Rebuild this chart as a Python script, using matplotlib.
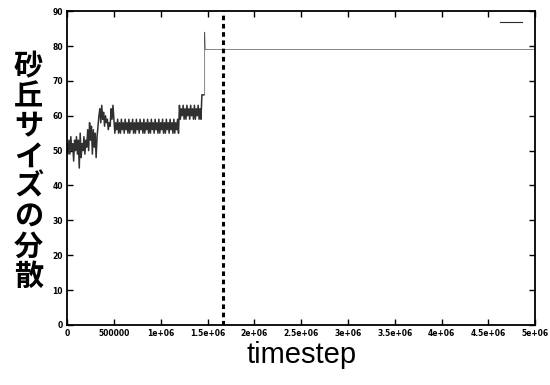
import numpy as np
import matplotlib
matplotlib.use("Agg")
import matplotlib.pyplot as plt
from matplotlib.lines import Line2D

# 砂丘サイズの分散 (sampled every 10000 steps up to the jump)
var_early = [52, 49, 53, 49, 54, 50, 52, 47, 53, 50,
             54, 49, 53, 45, 55, 48, 52, 50, 54, 49,
             53, 51, 56, 50, 58, 53, 57, 49, 56, 51,
             55, 48, 54, 57, 60,
             62, 58, 63, 59, 61, 57, 60, 58, 59, 56, 58, 57, 62, 59, 63]
var_mid = [59, 55, 58, 56, 59, 55, 58, 55, 59, 56, 58, 55, 59, 56, 58, 55, 59, 55, 58, 56,
           59, 55, 58, 55, 59, 56, 58, 55, 59, 56, 58, 55, 59, 55, 58, 56, 59, 55, 58, 55,
           59, 56, 58, 55, 59, 56, 58, 55, 59, 55, 58, 56, 59, 55, 58, 55, 59, 56, 58, 55,
           59, 56, 58, 55, 59, 55, 58, 56, 59, 55]
var_late = [63, 59, 62, 60, 63, 59, 62, 59, 63, 60, 62, 59, 63, 60, 62, 59, 63, 59, 62, 60,
            63, 59, 62, 59, 66, 66, 66]
step = 10000

# after the jump the variance stays flat
plateau_t = [1.47e6, 1.47e6, 1.475e6, 5e6]
plateau_v = [66, 84, 79, 79]

boundary_t = 1.67e6

xticks = [0, 5e5, 1e6, 1.5e6, 2e6, 2.5e6, 3e6, 3.5e6, 4e6, 4.5e6, 5e6]
xticklabels = ["0", "500000", "1e+06", "1.5e+06", "2e+06", "2.5e+06", "3e+06",
               "3.5e+06", "4e+06", "4.5e+06", "5e+06"]
yticks = list(range(0, 91, 10))

v = var_early + var_mid + var_late
t = np.arange(len(v)) * step

fig = plt.figure(figsize=(5.5, 3.85), dpi=100)
ax = fig.add_axes([0.122, 0.156, 0.851, 0.815])

ax.plot(t, v, color="#303030", lw=1.1)
ax.plot([t[-1]] + plateau_t, [v[-1]] + plateau_v, color="#555555", lw=0.5)
ax.axvline(boundary_t, color="black", lw=2.2, ls=(0, (1.5, 1.2)))

ax.set_xlim(0, 5e6)
ax.set_ylim(0, 90)
ax.set_xticks(xticks)
ax.set_xticklabels(xticklabels)
ax.set_yticks(yticks)
ax.tick_params(direction="in", top=True, right=True, length=4, width=1,
               labelsize=5.5, pad=3)
for lab in ax.get_xticklabels() + ax.get_yticklabels():
    lab.set_fontweight("bold")
for s in ax.spines.values():
    s.set_linewidth(1.3)

ax.legend(handles=[Line2D([], [], color="#2a2a2a", lw=0.8)], labels=[""],
          loc="upper right", frameon=False, handlelength=2.6,
          borderaxespad=0.4, fontsize=6)

ax.set_xlabel("timestep", fontsize=21, family="Liberation Sans", labelpad=2)
fig.text(0.052, 0.555, "\n".join("砂丘サイズの分散"), fontsize=21,
         family=["Noto Sans CJK JP", "DejaVu Sans"], fontweight="bold",
         ha="center", va="center", linespacing=1.0)

fig.savefig("out.png", dpi=100)
